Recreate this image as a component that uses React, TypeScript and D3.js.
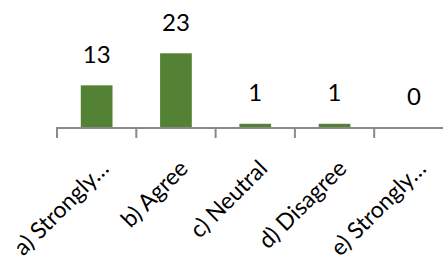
import React from 'react';
import * as d3 from 'd3';

const categories = ['a) Strongly…', 'b) Agree', 'c) Neutral', 'd) Disagree', 'e) Strongly…'];
const values = [13, 23, 1, 1, 0];

const width = 443;
const height = 262;
const axisY = 128;
const font = "Lato, 'Open Sans', sans-serif";

const App = () => {
  const x = d3
    .scaleBand<string>()
    .domain(categories)
    .range([57, 57 + 5 * 79.3])
    .paddingInner(0.6)
    .paddingOuter(0.3);

  const y = d3.scaleLinear().domain([0, 23]).range([127, 53.3]);

  const step = x.step();
  const start = x.range()[0];
  const ticks = d3.range(categories.length + 1).map(i => start + i * step);

  return (
    <div style={{ position: 'absolute', left: 0, top: 0 }}>
      <svg width={width} height={height} style={{ display: 'block', background: '#fff' }}>
        {/* bars */}
        {categories.map((c, i) => (
          <rect
            key={c}
            x={x(c)}
            y={y(values[i])}
            width={x.bandwidth()}
            height={y(0) - y(values[i])}
            fill="#548235"
          />
        ))}

        {/* value labels */}
        {categories.map((c, i) => (
          <text
            key={'v' + c}
            x={(x(c) as number) + x.bandwidth() / 2}
            y={y(values[i]) - 22.5}
            textAnchor="middle"
            fontFamily={font}
            fontSize={24}
            fill="#000"
          >
            {values[i]}
          </text>
        ))}

        {/* axis */}
        <line x1={start - 1} x2={width} y1={axisY} y2={axisY} stroke="#898989" strokeWidth={2} />
        {ticks.map((t, i) => (
          <line key={i} x1={t} x2={t} y1={axisY} y2={axisY + 10} stroke="#898989" strokeWidth={2} />
        ))}

        {/* category labels */}
        {categories.map(c => {
          const cx = (x(c) as number) + x.bandwidth() / 2 + 13.5;
          const cy = axisY + 42;
          return (
            <text
              key={'c' + c}
              transform={`translate(${cx},${cy}) rotate(-45)`}
              textAnchor="end"
              fontFamily={font}
              fontSize={23}
              fill="#000"
            >
              {c}
            </text>
          );
        })}
      </svg>
    </div>
  );
};

export default App;
